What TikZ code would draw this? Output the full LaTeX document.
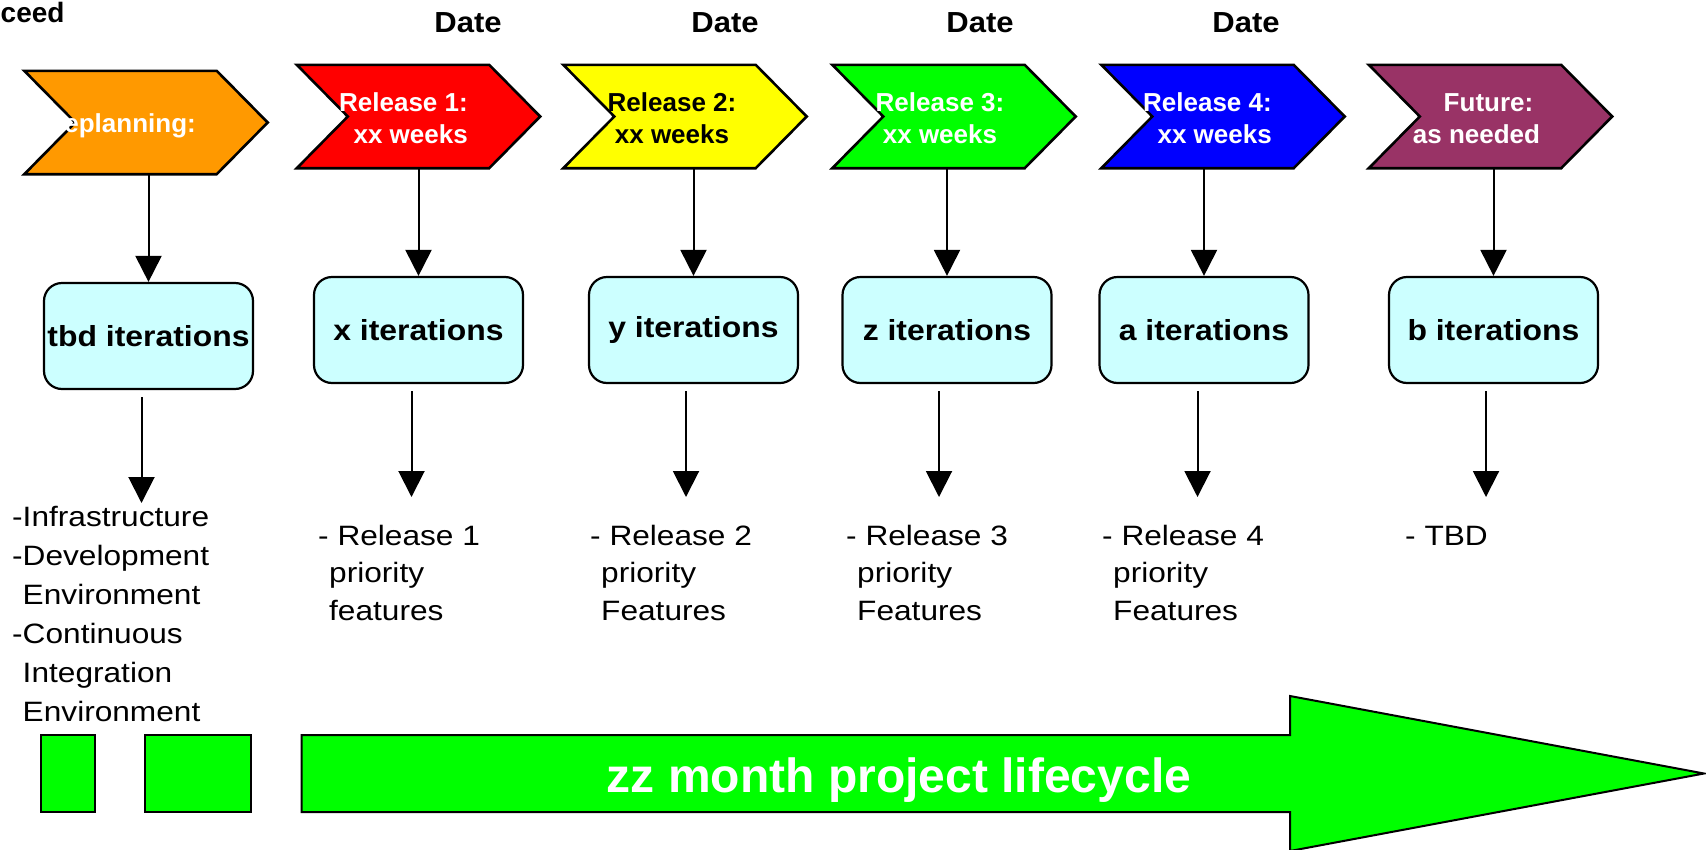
\documentclass[tikz,border=0pt]{standalone}
\usepackage{fontspec}
\setmainfont{Liberation Sans}
\newfontfamily\listfont[FakeStretch=1.13]{Liberation Sans}
\newfontfamily\boxfont[FakeStretch=1.1]{Liberation Sans}
\newfontfamily\datefont[FakeStretch=1.07]{Liberation Sans}
\usetikzlibrary{arrows.meta,calc}
\definecolor{chorange}{HTML}{FF9900}
\definecolor{chred}{HTML}{FF0000}
\definecolor{chyellow}{HTML}{FFFF00}
\definecolor{chgreen}{HTML}{00FF00}
\definecolor{chblue}{HTML}{0000FF}
\definecolor{chpurple}{HTML}{993366}
\definecolor{boxcyan}{HTML}{CCFFFF}
\newcommand\chevshape[2]{%
  \draw[line width=2.6pt,fill=#2,line join=miter]
    (#1.north west) -- ($(#1.north east)+(-51,0)$) -- (#1.east)
    -- ($(#1.south east)+(-51,0)$) -- (#1.south west)
    -- ($(#1.west)+(51,0)$) -- cycle;}
\begin{document}
\begin{tikzpicture}[x=1pt,y=-1pt,
  conn/.style={line width=2pt,-{Triangle[length=26pt,width=26pt]}},
  chevnode/.style={minimum width=243pt,minimum height=103pt,inner sep=0pt,draw=none},
  chevlab/.style={font=\fontsize{26}{31}\selectfont\bfseries,inner sep=0pt,text=white},
  datelab/.style={font=\datefont\fontsize{29}{34}\selectfont\bfseries,inner sep=0pt,anchor=base},
  iterbox/.style={draw,line width=2.2pt,fill=boxcyan,rounded corners=18pt,
    minimum width=209pt,minimum height=106pt,inner sep=0pt,
    font=\boxfont\fontsize{29}{34}\selectfont\bfseries},
  listtext/.style={font=\listfont\fontsize{28}{37.5}\selectfont,inner sep=0pt,anchor=base west},
  greenbox/.style={draw,line width=2pt,fill=chgreen,inner sep=0pt,minimum height=77pt}
]
\useasboundingbox (0,0) rectangle (1706,849);

% header texts
\node[datelab,anchor=base west,font=\fontsize{28}{34}\selectfont\bfseries] (ceed) at (0.5,22) {ceed};
\node[datelab] (d1) at (468,32) {Date};
\node[datelab] (d2) at (725,32) {Date};
\node[datelab] (d3) at (980,32) {Date};
\node[datelab] (d4) at (1246,32) {Date};

% chevrons
\node[chevnode] (c0) at (146,122.5) {};
\node[chevnode] (c1) at (418.5,116.5) {};
\node[chevnode] (c2) at (685,116.5) {};
\node[chevnode] (c3) at (954,116.5) {};
\node[chevnode] (c4) at (1223,116.5) {};
\node[chevnode] (c5) at (1490.5,116.5) {};
\chevshape{c0}{chorange}
\chevshape{c1}{chred}
\chevshape{c2}{chyellow}
\chevshape{c3}{chgreen}
\chevshape{c4}{chblue}
\chevshape{c5}{chpurple}

\begin{scope}
  \clip (65,60) rectangle (300,180);
  \node[chevlab,anchor=base east] (l0) at (196,132) {eplanning:};
\end{scope}
\node[chevlab,anchor=base east] (l1a) at (468,111) {Release 1:};
\node[chevlab,anchor=base east] (l1b) at (468,143) {xx weeks};
\node[chevlab,anchor=base,text=black] (l2a) at (672,111) {Release 2:};
\node[chevlab,anchor=base,text=black] (l2b) at (672,143) {xx weeks};
\node[chevlab,anchor=base] (l3a) at (940,111) {Release 3:};
\node[chevlab,anchor=base] (l3b) at (940,143) {xx weeks};
\node[chevlab,anchor=base east] (l4a) at (1272,111) {Release 4:};
\node[chevlab,anchor=base east] (l4b) at (1272,143) {xx weeks};
\node[chevlab,anchor=base] (l5a) at (1488.5,111) {Future:};
\node[chevlab,anchor=base] (l5b) at (1476.5,143) {as needed};

% iteration boxes
\node[iterbox] (b0) at (148.5,336) {tbd iterations};
\node[iterbox] (b1) at (418.5,330) {x iterations};
\node[iterbox] (b2) at (693.5,330) {y iterations};
\node[iterbox] (b3) at (947,330) {z iterations};
\node[iterbox] (b4) at (1204,330) {a iterations};
\node[iterbox] (b5) at (1493.5,330) {b iterations};

% arrows chevron -> box
\draw[conn] (b0.north |- c0.south) -- (b0.north);
\draw[conn] (b1.north |- c1.south) -- (b1.north);
\draw[conn] (b2.north |- c2.south) -- (b2.north);
\draw[conn] (b3.north |- c3.south) -- (b3.north);
\draw[conn] (b4.north |- c4.south) -- (b4.north);
\draw[conn] (b5.north |- c5.south) -- (b5.north);

% arrows box -> list
\coordinate (e0) at (141.5,503);
\coordinate (e1) at (411.5,497);
\coordinate (e2) at (686,497);
\coordinate (e3) at (939,497);
\coordinate (e4) at (1197.5,497);
\coordinate (e5) at (1486,497);
\draw[conn] ($(e0 |- b0.south)+(0,7)$) -- (e0);
\draw[conn] ($(e1 |- b1.south)+(0,7)$) -- (e1);
\draw[conn] ($(e2 |- b2.south)+(0,7)$) -- (e2);
\draw[conn] ($(e3 |- b3.south)+(0,7)$) -- (e3);
\draw[conn] ($(e4 |- b4.south)+(0,7)$) -- (e4);
\draw[conn] ($(e5 |- b5.south)+(0,7)$) -- (e5);

% lists
\node[listtext,font=\listfont\fontsize{28}{39}\selectfont] (t0) at (12,526.5) {\vtop{%
  \hbox{-Infrastructure}\hbox{-Development}\hbox{\hphantom{-}Environment}%
  \hbox{-Continuous}\hbox{\hphantom{-}Integration}\hbox{\hphantom{-}Environment}}};
\node[listtext] (t1) at (318,545) {\vtop{\hbox{- Release 1}\hbox{\kern11pt priority}\hbox{\kern11pt features}}};
\node[listtext] (t2) at (590,545) {\vtop{\hbox{- Release 2}\hbox{\kern11pt priority}\hbox{\kern11pt Features}}};
\node[listtext] (t3) at (846,545) {\vtop{\hbox{- Release 3}\hbox{\kern11pt priority}\hbox{\kern11pt Features}}};
\node[listtext] (t4) at (1102,545) {\vtop{\hbox{- Release 4}\hbox{\kern11pt priority}\hbox{\kern11pt Features}}};
\node[listtext] (t5) at (1405,545) {- TBD};

% bottom timeline
\node[greenbox,minimum width=53.5pt] (g1) at (67.75,773.5) {};
\node[greenbox,minimum width=106pt] (g2) at (198,773.5) {};
\draw[line width=2pt,fill=chgreen,line join=miter]
  (301.5,735) -- (1290,735) -- (1290,696) -- (1704,773.5) -- (1290,851)
  -- (1290,812) -- (301.5,812) -- cycle;
\node[font=\fontsize{48}{56}\selectfont\bfseries,text=white,inner sep=0pt,anchor=base] (zz) at (899,792) {zz month project lifecycle};
\end{tikzpicture}
\end{document}
